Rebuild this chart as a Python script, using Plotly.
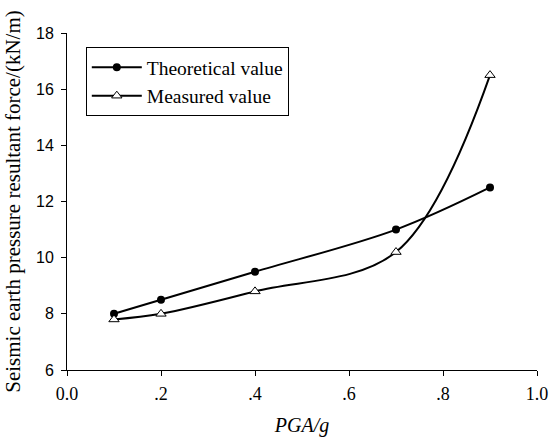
import plotly.graph_objects as go

pga = [0.1, 0.2, 0.4, 0.7, 0.9]
theoretical = [8.0, 8.5, 9.5, 11.0, 12.5]
measured = [7.8, 8.0, 8.8, 10.2, 16.5]

x_tick_vals = [0.0, 0.2, 0.4, 0.6, 0.8, 1.0]
x_tick_text = ["0.0", ".2", ".4", ".6", ".8", "1.0"]
y_tick_vals = [6, 8, 10, 12, 14, 16, 18]

serif = "Liberation Serif, Times New Roman, serif"
sans = "Liberation Sans, Arial, sans-serif"

fig = go.Figure()
fig.add_trace(go.Scatter(
    x=pga, y=theoretical, name="Theoretical value", mode="lines+markers",
    line=dict(color="black", width=2, shape="spline", smoothing=1.0),
    marker=dict(symbol="circle", size=8, color="black"),
))
fig.add_trace(go.Scatter(
    x=pga, y=measured, name="Measured value", mode="lines+markers",
    line=dict(color="black", width=2, shape="spline", smoothing=1.0),
    marker=dict(symbol="triangle-up", size=9, color="white",
                line=dict(color="black", width=1)),
))

fig.update_layout(
    width=549, height=439,
    margin=dict(l=67, r=12, t=33, b=69, autoexpand=False),
    paper_bgcolor="white", plot_bgcolor="white",
    showlegend=True,
    legend=dict(
        x=0.04, y=0.958, xanchor="left", yanchor="top",
        bordercolor="black", borderwidth=1, bgcolor="white",
        font=dict(family=serif, size=19.5, color="black"),
        tracegroupgap=0, itemwidth=50,
    ),
    xaxis=dict(
        range=[0, 1.0], tickvals=x_tick_vals, ticktext=x_tick_text,
        automargin=False,
        showgrid=False, zeroline=False, showline=True, linecolor="black", linewidth=1,
        ticks="outside", ticklen=5, tickcolor="black", ticklabelstandoff=2,
        tickfont=dict(family=serif, size=18, color="black"),
        title=dict(text="<i>PGA/g</i>", font=dict(family=serif, size=20, color="black"), standoff=15),
    ),
    yaxis=dict(
        range=[6, 18], tickvals=y_tick_vals,
        automargin=False,
        showgrid=False, zeroline=False, showline=True, linecolor="black", linewidth=1,
        ticks="outside", ticklen=5, tickcolor="black", ticklabelstandoff=4,
        tickfont=dict(family=sans, size=16, color="black"),
        title=dict(text="Seismic earth pressure resultant force/(kN/m)",
                   font=dict(family=serif, size=21, color="black"), standoff=9),
    ),
)

# the page body has a default 8px margin; remove it so the figure fills the window
fig.write_html("out.html", config={"displayModeBar": False},
               post_script="document.body.style.margin='0';")
